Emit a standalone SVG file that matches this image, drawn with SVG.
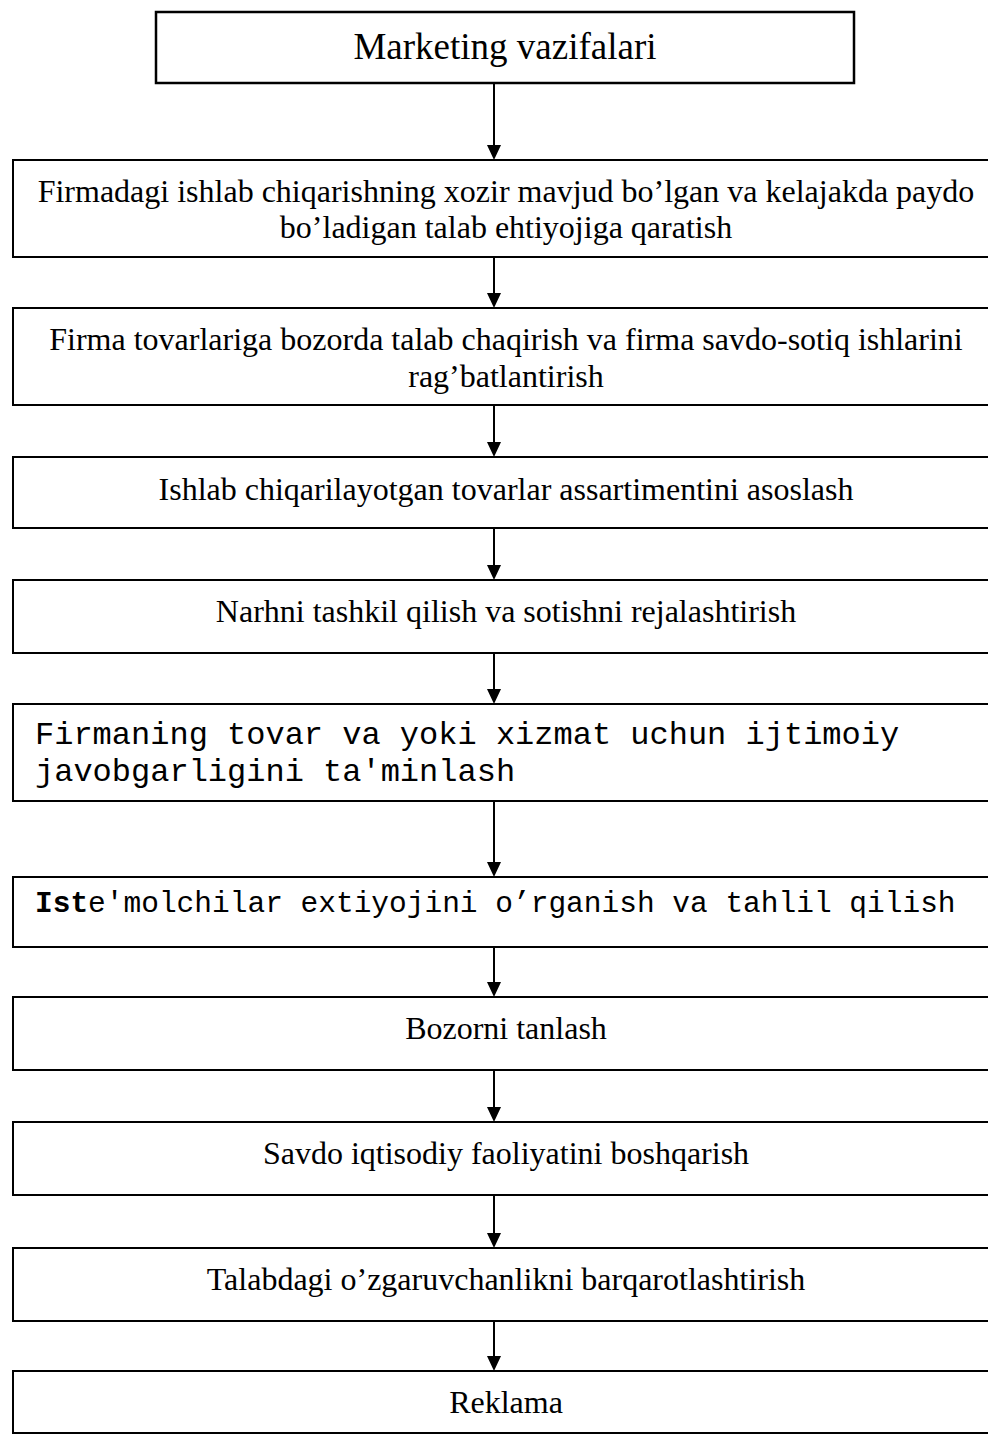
<svg xmlns="http://www.w3.org/2000/svg" width="988" height="1435" viewBox="0 0 988 1435">
<style>
.box{fill:#fff;stroke:#000;stroke-width:2}
.t{font-family:"Liberation Serif","Times New Roman",serif;font-size:32px;fill:#000;text-anchor:middle}
.m{font-family:"Liberation Mono","Courier New",monospace;fill:#000}
.c{stroke:#000;stroke-width:2;fill:none}
.h{fill:#000}
</style>
<rect width="988" height="1435" fill="#fff"/>
<g id="n1"><rect class="box" x="156" y="12" width="698" height="71" style="stroke-width:2.5"/><text class="t" x="505" y="59" style="font-size:37px">Marketing vazifalari</text></g>
<g id="n2"><rect class="box" x="13" y="160" width="990" height="97"/><text class="t" x="506" y="202">Firmadagi ishlab chiqarishning xozir mavjud bo’lgan va kelajakda paydo</text><text class="t" x="506" y="238">bo’ladigan talab ehtiyojiga qaratish</text></g>
<g id="n3"><rect class="box" x="13" y="308" width="990" height="97"/><text class="t" x="506" y="350">Firma tovarlariga bozorda talab chaqirish va firma savdo-sotiq ishlarini</text><text class="t" x="506" y="387">rag’batlantirish</text></g>
<g id="n4"><rect class="box" x="13" y="457" width="990" height="71"/><text class="t" x="506" y="500">Ishlab chiqarilayotgan tovarlar assartimentini asoslash</text></g>
<g id="n5"><rect class="box" x="13" y="580" width="990" height="73"/><text class="t" x="506" y="622">Narhni tashkil qilish va sotishni rejalashtirish</text></g>
<g id="n6"><rect class="box" x="13" y="704" width="990" height="97"/><text class="m" x="35" y="744" font-size="32">Firmaning tovar va yoki xizmat uchun ijtimoiy</text><text class="m" x="35" y="781" font-size="32">javobgarligini ta'minlash</text></g>
<g id="n7"><rect class="box" x="13" y="877" width="990" height="70"/><text class="m" x="35" y="912" font-size="29.5"><tspan font-weight="bold">Ist</tspan>e'molchilar extiyojini o’rganish va tahlil qilish</text></g>
<g id="n8"><rect class="box" x="13" y="997" width="990" height="73"/><text class="t" x="506" y="1039">Bozorni tanlash</text></g>
<g id="n9"><rect class="box" x="13" y="1122" width="990" height="73"/><text class="t" x="506" y="1164">Savdo iqtisodiy faoliyatini boshqarish</text></g>
<g id="n10"><rect class="box" x="13" y="1248" width="990" height="73"/><text class="t" x="506" y="1290">Talabdagi o’zgaruvchanlikni barqarotlashtirish</text></g>
<g id="n11"><rect class="box" x="13" y="1371" width="990" height="62"/><text class="t" x="506" y="1413">Reklama</text></g>
<g id="connectors">
<line class="c" x1="494" y1="83" x2="494" y2="146"/><path class="h" d="M487,145 L501,145 L494,160 Z"/>
<line class="c" x1="494" y1="257" x2="494" y2="294"/><path class="h" d="M487,293 L501,293 L494,308 Z"/>
<line class="c" x1="494" y1="405" x2="494" y2="443"/><path class="h" d="M487,442 L501,442 L494,457 Z"/>
<line class="c" x1="494" y1="528" x2="494" y2="566"/><path class="h" d="M487,565 L501,565 L494,580 Z"/>
<line class="c" x1="494" y1="653" x2="494" y2="690"/><path class="h" d="M487,689 L501,689 L494,704 Z"/>
<line class="c" x1="494" y1="801" x2="494" y2="863"/><path class="h" d="M487,862 L501,862 L494,877 Z"/>
<line class="c" x1="494" y1="947" x2="494" y2="983"/><path class="h" d="M487,982 L501,982 L494,997 Z"/>
<line class="c" x1="494" y1="1070" x2="494" y2="1108"/><path class="h" d="M487,1107 L501,1107 L494,1122 Z"/>
<line class="c" x1="494" y1="1195" x2="494" y2="1234"/><path class="h" d="M487,1233 L501,1233 L494,1248 Z"/>
<line class="c" x1="494" y1="1321" x2="494" y2="1357"/><path class="h" d="M487,1356 L501,1356 L494,1371 Z"/>
</g>
</svg>
